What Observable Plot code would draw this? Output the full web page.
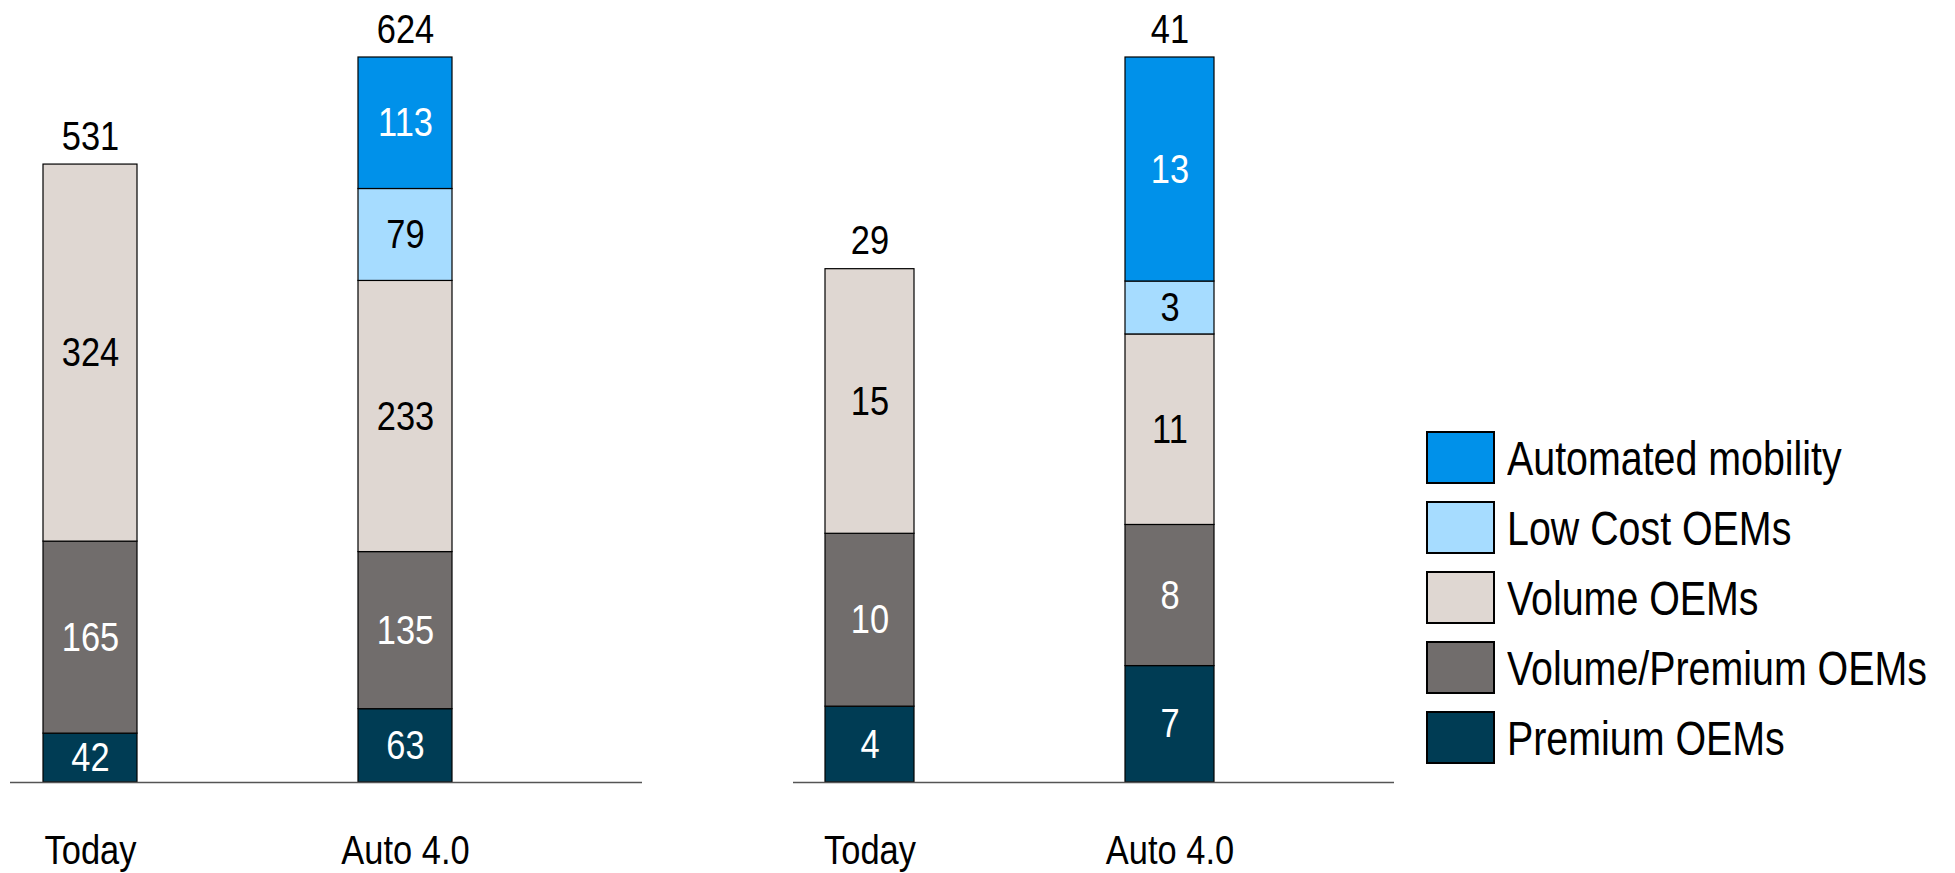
<!DOCTYPE html>
<html><head><meta charset="utf-8">
<script src="https://cdn.jsdelivr.net/npm/d3@7"></script>
<script src="https://cdn.jsdelivr.net/npm/@observablehq/plot@0.6"></script>
<style>
body{margin:0;background:#fff;}
#wrap{position:relative;width:1955px;height:873px;overflow:hidden;font-family:"Liberation Sans",Arial,sans-serif;}
.panel{position:absolute;top:0;}
#legend{position:absolute;left:1426px;top:431px;}
.item{position:relative;height:53px;margin-bottom:17px;}
.sw{position:absolute;left:0;top:0;width:69px;height:53px;border:2px solid #000;box-sizing:border-box;}
.lab{position:absolute;left:81px;top:0;height:53px;line-height:55px;font-size:48px;color:#000;white-space:nowrap;transform-origin:left center;transform:scaleX(0.82);}
</style>
</head><body>
<div id="wrap"><div id="legend"></div></div>
<script>
const categories = ["Today", "Auto 4.0"];
const series = ["Premium OEMs", "Volume/Premium OEMs", "Volume OEMs", "Low Cost OEMs", "Automated mobility"];
const colors = ["#003C54", "#716D6C", "#DFD7D2", "#A6DCFF", "#0091EA"];
const labelColors = ["#fff", "#fff", "#000", "#000", "#fff"];

// Left panel
const leftToday = [42, 165, 324];
const leftAuto = [63, 135, 233, 79, 113];
const leftTotals = [531, 624];
// Right panel
const rightToday = [4.3, 9.8, 15.0];
const rightAuto = [6.6, 8.0, 10.8, 3.0, 12.7];
const rightTotals = [29, 41];

const FONT = '"Liberation Sans",Arial,sans-serif';
const fmt = d3.format(".0f");

function rows(today, auto) {
  const r = [];
  today.forEach((v, i) => r.push({cat: categories[0], series: series[i], value: v, idx: i}));
  auto.forEach((v, i) => r.push({cat: categories[1], series: series[i], value: v, idx: i}));
  return r;
}

function panel(today, auto, totals, opts) {
  const data = rows(today, auto);
  const sums = [d3.sum(today), d3.sum(auto)];
  const tot = categories.map((c, i) => ({cat: c, sum: sums[i], label: totals[i]}));
  const svg = Plot.plot({
    width: opts.width,
    height: 873,
    marginLeft: opts.ml,
    marginRight: opts.mr,
    marginTop: 57,
    marginBottom: 91,
    style: {fontFamily: FONT, background: "transparent"},
    x: {domain: categories, range: opts.xrange, paddingInner: opts.pad, paddingOuter: 0, axis: null},
    y: {domain: [0, d3.max(sums)], range: [782, 57], axis: null},
    color: {domain: series, range: colors},
    marks: [
      Plot.barY(data, {x: "cat", y: "value", fill: "series", stroke: "#000", strokeWidth: 1.2, inset: 0}),
      Plot.text(data, Plot.stackY({x: "cat", y: "value", z: "series", text: d => fmt(d.value),
        fill: d => labelColors[d.idx], fontSize: 41})),
      Plot.text(tot, {x: "cat", y: "sum", text: d => String(d.label), fontSize: 41, fill: "#000",
        lineAnchor: "bottom", dy: -15}),
      Plot.text(categories, {x: d => d, text: d => d, frameAnchor: "bottom", lineAnchor: "bottom",
        dy: 81, fontSize: 41, fill: "#000"}),
      Plot.ruleY([0], {stroke: "#555", strokeWidth: 1.5})
    ]
  });
  // condense text horizontally (narrow sans look), scaling about each text's anchor point
  svg.querySelectorAll("text").forEach(t => {
    const x = t.getAttribute("x");
    if (x != null && t.getAttribute("transform") == null) {
      const y = t.getAttribute("y") || 0;
      t.removeAttribute("x"); t.removeAttribute("y");
      t.setAttribute("transform", `translate(${x},${y}) scale(0.84,1)`);
    } else {
      t.setAttribute("transform", (t.getAttribute("transform") || "") + " scale(0.84,1)");
    }
  });
  return svg;
}

const wrap = document.getElementById("wrap");
const p1 = panel(leftToday, leftAuto, leftTotals, {width: 660, ml: 10, mr: 18, xrange: [42, 452], pad: 0.7025});
p1.classList.add("panel"); p1.style.left = "0px";
wrap.appendChild(p1);
const p2 = panel(rightToday, rightAuto, rightTotals, {width: 640, ml: 13, mr: 26, xrange: [44, 434], pad: 0.7043});
p2.classList.add("panel"); p2.style.left = "780px";
wrap.appendChild(p2);

const legend = document.getElementById("legend");
series.slice().reverse().forEach(s => {
  const i = series.indexOf(s);
  const it = document.createElement("div"); it.className = "item";
  const sw = document.createElement("div"); sw.className = "sw"; sw.style.background = colors[i];
  const lb = document.createElement("div"); lb.className = "lab"; lb.textContent = s;
  it.appendChild(sw); it.appendChild(lb); legend.appendChild(it);
});
</script>
</body></html>
